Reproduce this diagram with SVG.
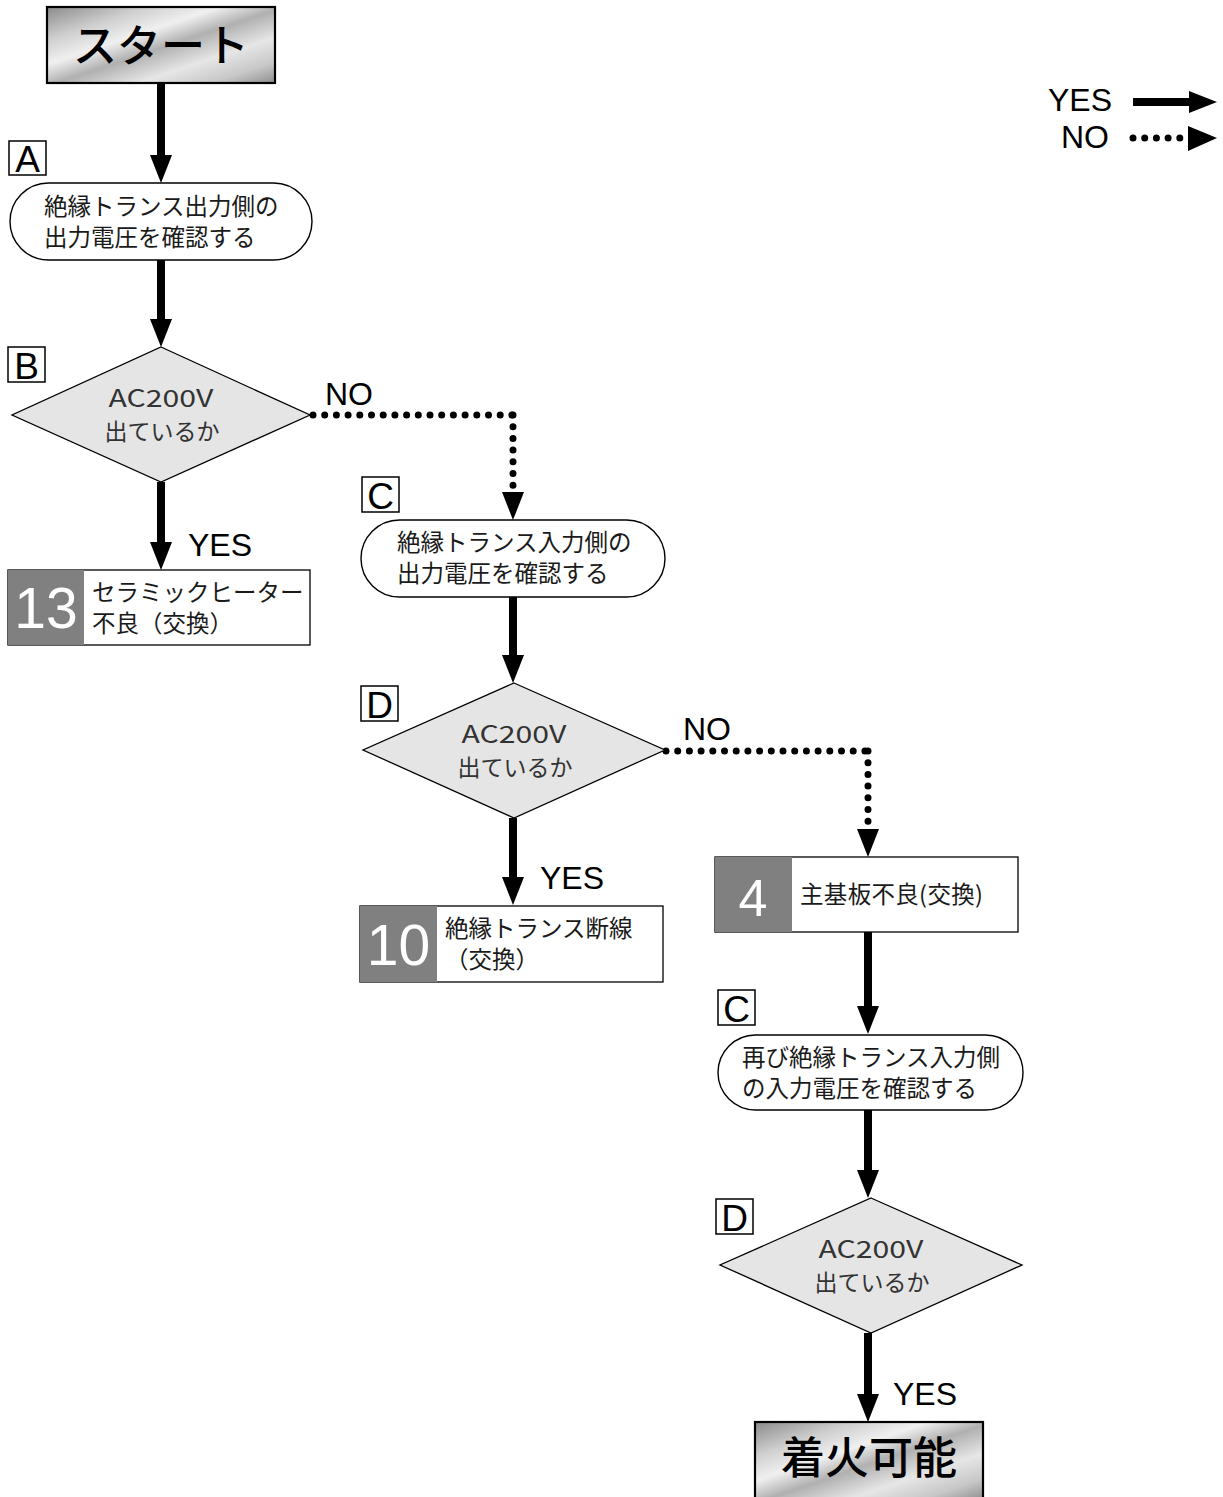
<svg xmlns="http://www.w3.org/2000/svg" xmlns:xlink="http://www.w3.org/1999/xlink" width="1223" height="1497" viewBox="0 0 1223 1497">
<style>
.jp{font-family:"Noto Sans CJK JP","Noto Sans",sans-serif;font-size:23.5px;fill:#1a1a1a}
.dj{font-family:"Noto Sans CJK JP","Noto Sans",sans-serif;font-size:23px;fill:#333;text-anchor:middle}
.ac{font-family:"Noto Sans CJK JP","Noto Sans",sans-serif;font-size:24px;fill:#333;text-anchor:middle}
.yn{font-family:"Liberation Sans",Arial,sans-serif;font-size:32px;fill:#000}
.lbl{fill:#fff;stroke:#000;stroke-width:1.5}
.lt{font-family:"Liberation Sans",Arial,sans-serif;font-size:37px;fill:#000;text-anchor:middle}
.pill{fill:#fff;stroke:#000;stroke-width:1.4}
.dia{fill:#e5e5e5;stroke:#000;stroke-width:1.3}
.box{fill:#fff;stroke:#000;stroke-width:1.3}
.num{fill:#808080}
.nt{font-family:"Liberation Sans",Arial,sans-serif;fill:#fff;text-anchor:middle}
.term{fill:url(#metal);stroke:#000;stroke-width:2.2}
.tt{font-family:"Noto Sans CJK JP",sans-serif;font-size:44px;font-weight:500;fill:#000;text-anchor:middle}
.solid{stroke:#000;stroke-width:8;fill:none}
.dot{stroke:#000;stroke-width:7;fill:none;stroke-linecap:round;stroke-dasharray:0 11.7}
</style>
<defs>
<linearGradient id="metal" x1="0" y1="0" x2="1" y2="1">
<stop offset="0" stop-color="#8a8a8a"/>
<stop offset="0.22" stop-color="#cfcfcf"/>
<stop offset="0.38" stop-color="#f0f0f0"/>
<stop offset="0.52" stop-color="#b0b0b0"/>
<stop offset="0.7" stop-color="#e6e6e6"/>
<stop offset="0.86" stop-color="#c8c8c8"/>
<stop offset="1" stop-color="#8e8e8e"/>
</linearGradient>
<path id="ah" d="M-11,-28 L11,-28 L0,0 Z" fill="#000"/>
</defs>
<rect width="1223" height="1497" fill="#fff"/>

<g id="connectors">
<path class="solid" d="M161,83 V156"/><use xlink:href="#ah" x="161" y="183"/>
<path class="solid" d="M161,260 V320"/><use xlink:href="#ah" x="161" y="347"/>
<path class="solid" d="M161,482 V543"/><use xlink:href="#ah" x="161" y="570"/>
<path class="dot" d="M313,415 H513"/><path class="dot" d="M513,415 V490"/><use xlink:href="#ah" x="513" y="520"/>
<path class="solid" d="M513,597 V656"/><use xlink:href="#ah" x="513" y="683"/>
<path class="solid" d="M513,818 V878"/><use xlink:href="#ah" x="513" y="905"/>
<path class="dot" d="M666,751 H868"/><path class="dot" d="M868,751 V826"/><use xlink:href="#ah" x="868" y="857"/>
<path class="solid" d="M868,932 V1007"/><use xlink:href="#ah" x="868" y="1034"/>
<path class="solid" d="M868,1110 V1171"/><use xlink:href="#ah" x="868" y="1198"/>
<path class="solid" d="M868,1333 V1395"/><use xlink:href="#ah" x="868" y="1422"/>
<text class="yn" x="325" y="405">NO</text>
<text class="yn" x="188" y="556">YES</text>
<text class="yn" x="683" y="740">NO</text>
<text class="yn" x="540" y="889">YES</text>
<text class="yn" x="893" y="1405">YES</text>
</g>

<g id="legend">
<text class="yn" x="1048" y="111">YES</text>
<path class="solid" d="M1133,102 H1192"/><use xlink:href="#ah" transform="translate(1217,102) rotate(-90)"/>
<text class="yn" x="1061" y="148">NO</text>
<path class="dot" d="M1133,138 H1180"/><path d="M1188,126 L1217,138 L1188,151 Z" fill="#000"/>
</g>

<g id="start">
<rect class="term" x="47" y="7" width="228" height="76"/>
<text class="tt" x="161" y="62">スタート</text>
</g>

<g id="nodeA">
<rect class="lbl" x="9" y="141" width="37" height="34"/>
<text class="lt" x="27.5" y="172">A</text>
<rect class="pill" x="10" y="183" width="302" height="77" rx="38.5" ry="38.5"/>
<text class="jp" x="44" y="215">絶縁トランス出力側の</text>
<text class="jp" x="44" y="246">出力電圧を確認する</text>
</g>

<g id="nodeB">
<rect class="lbl" x="8" y="347" width="37" height="35"/>
<text class="lt" x="26.5" y="379">B</text>
<polygon class="dia" points="161,347 310,415 161,482 12,415"/>
<text class="ac" x="161" y="407" textLength="105" lengthAdjust="spacingAndGlyphs">AC200V</text>
<text class="dj" x="162" y="440">出ているか</text>
</g>

<g id="node13">
<rect class="box" x="8" y="570" width="302" height="75"/>
<rect class="num" x="8" y="570" width="76" height="75"/>
<text class="nt" x="46" y="628" font-size="57">13</text>
<text class="jp" x="92" y="601">セラミックヒーター</text>
<text class="jp" x="92" y="632">不良（交換）</text>
</g>

<g id="nodeC">
<rect class="lbl" x="362" y="477" width="37" height="35"/>
<text class="lt" x="380.5" y="509">C</text>
<rect class="pill" x="361" y="520" width="304" height="77" rx="38.5" ry="38.5"/>
<text class="jp" x="397" y="551">絶縁トランス入力側の</text>
<text class="jp" x="397" y="582">出力電圧を確認する</text>
</g>

<g id="nodeD">
<rect class="lbl" x="361" y="686" width="37" height="35"/>
<text class="lt" x="379.5" y="718">D</text>
<polygon class="dia" points="514,683 665,750 514,818 363,750"/>
<text class="ac" x="514" y="743" textLength="105" lengthAdjust="spacingAndGlyphs">AC200V</text>
<text class="dj" x="515" y="776">出ているか</text>
</g>

<g id="node10">
<rect class="box" x="360" y="906" width="303" height="76"/>
<rect class="num" x="360" y="906" width="77" height="76"/>
<text class="nt" x="398.5" y="965" font-size="57">10</text>
<text class="jp" x="445" y="937">絶縁トランス断線</text>
<text class="jp" x="445" y="968">（交換）</text>
</g>

<g id="node4">
<rect class="box" x="715" y="857" width="303" height="75"/>
<rect class="num" x="715" y="857" width="77" height="75"/>
<text class="nt" x="753" y="916" font-size="52">4</text>
<text class="jp" x="800" y="903" textLength="183" lengthAdjust="spacing">主基板不良(交換)</text>
</g>

<g id="nodeC2">
<rect class="lbl" x="718" y="990" width="37" height="35"/>
<text class="lt" x="736.5" y="1022">C</text>
<rect class="pill" x="718" y="1035" width="305" height="75" rx="37.5" ry="37.5"/>
<text class="jp" x="742" y="1066">再び絶縁トランス入力側</text>
<text class="jp" x="742" y="1097">の入力電圧を確認する</text>
</g>

<g id="nodeD2">
<rect class="lbl" x="716" y="1199" width="37" height="35"/>
<text class="lt" x="734.5" y="1231">D</text>
<polygon class="dia" points="871,1198 1022,1265 871,1333 720,1265"/>
<text class="ac" x="871" y="1258" textLength="105" lengthAdjust="spacingAndGlyphs">AC200V</text>
<text class="dj" x="872" y="1291">出ているか</text>
</g>

<g id="end">
<rect class="term" x="755" y="1422" width="228" height="78"/>
<text class="tt" x="869" y="1474">着火可能</text>
</g>
</svg>
